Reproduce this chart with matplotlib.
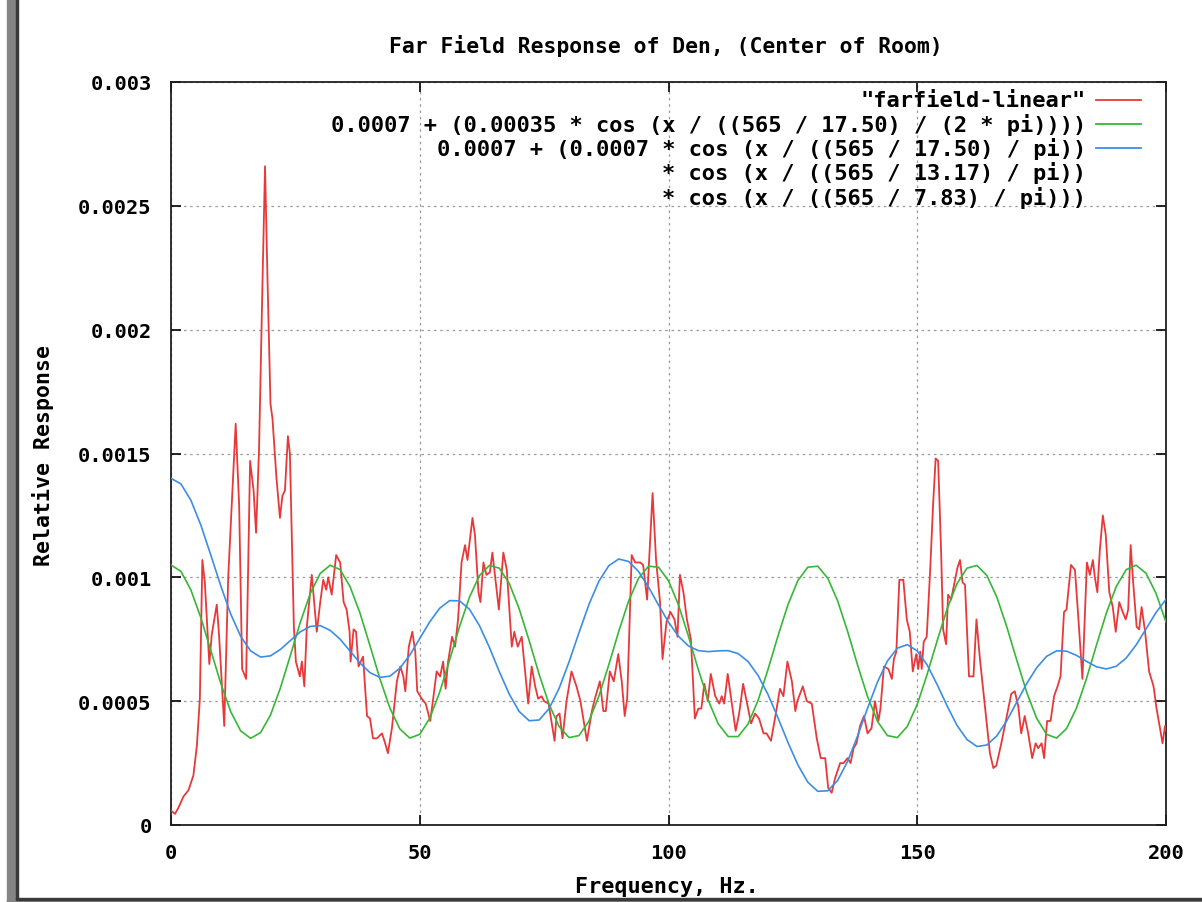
import matplotlib
matplotlib.use("Agg")
import matplotlib.pyplot as plt
from matplotlib.patches import Rectangle
from matplotlib.lines import Line2D
from matplotlib.ticker import FixedLocator, FixedFormatter

# ---------------- data ----------------
title = "Far Field Response of Den, (Center of Room)"
xlabel = "Frequency, Hz."
ylabel = "Relative Response"

x_ticks = [0, 50, 100, 150, 200]
x_tick_labels = ["0", "50", "100", "150", "200"]
y_ticks = [0, 0.0005, 0.001, 0.0015, 0.002, 0.0025, 0.003]
y_tick_labels = ["0", "0.0005", "0.001", "0.0015", "0.002", "0.0025", "0.003"]

legend_labels = [
    "\"farfield-linear\"",
    "0.0007 + (0.00035 * cos (x / ((565 / 17.50) / (2 * pi))))",
    "0.0007 + (0.0007 * cos (x / ((565 / 17.50) / pi))\n"
    "* cos (x / ((565 / 13.17) / pi))\n"
    "* cos (x / ((565 / 7.83) / pi)))",
]

# measured response (Hz, value in units of 1e-4)
red_x = [0, 0.8, 1.5, 2.5, 3.5, 4.5, 5.2, 5.8, 6.3, 6.8, 7.7, 8.2, 9.2, 9.65, 10.7,
         11.5, 13.0, 13.7, 14.3, 15.1, 15.9, 16.6, 17.1, 17.7, 18.4, 18.9, 19.4, 20.0,
         20.4, 21.2, 21.9, 22.4, 22.9, 23.5, 23.9, 24.7, 25.1, 25.5, 25.9, 26.3, 26.8,
         27.3, 28.3, 29.3, 30.0, 30.6, 31.2, 31.6, 32.3, 33.2, 34.0, 34.7, 35.3, 35.9,
         36.1, 36.7, 37.2, 37.7, 38.6, 39.4, 40.0, 40.6, 41.4, 42.4, 42.9, 43.6, 44.4,
         45.4, 46.1, 46.7, 47.1, 47.8, 48.5, 49.1, 49.5, 50.4, 51.2, 52.1, 52.7, 53.4,
         54.1, 54.7, 55.2, 55.7, 56.5, 57.1, 57.7, 58.4, 59.1, 59.6, 60.6, 61.1, 61.8,
         62.2, 62.8, 63.4, 64.1, 64.6, 65.1, 65.9, 66.8, 67.5, 68.5, 69.0, 69.7, 70.5,
         71.8, 72.5, 73.2, 73.8, 74.5, 75.0, 75.9, 77.1, 77.5, 78.1, 78.7, 79.5, 80.5,
         81.5, 82.3, 83.6, 84.6, 85.2, 86.2, 86.9, 87.4, 88.2, 89.0, 89.9, 90.6, 91.2,
         91.7, 92.6, 93.3, 94.3, 94.9, 95.7, 96.8, 97.5, 98.3, 98.8, 99.6, 100.4, 101.2,
         101.8, 102.3, 103.0, 103.7, 104.5, 105.3, 106.0, 106.6, 107.2, 107.9, 108.5,
         109.4, 110.2, 110.7, 111.2, 111.9, 112.6, 113.5, 114.2, 115.0, 115.7, 116.6,
         117.4, 118.2, 119.1, 119.7, 120.6, 121.4, 122.4, 123.1, 123.9, 124.8, 125.5,
         125.9, 127.0, 127.8, 128.8, 129.8, 130.6, 131.5, 132.1, 132.8, 133.5, 134.5,
         135.2, 136.0, 136.6, 137.2, 137.8, 138.5, 139.3, 140.0, 140.8, 141.5, 142.2,
         142.6, 143.3, 144.2, 144.9, 145.3, 145.8, 146.4, 147.2, 147.9, 148.5, 149.1,
         149.8, 150.2, 150.6, 150.9, 151.3, 151.9, 152.6, 153.2, 153.7, 154.2, 154.8,
         155.2, 155.8, 156.2, 156.8, 157.5, 158.1, 158.6, 159.1, 159.6, 160.4, 161.3,
         161.9, 162.6, 163.6, 164.6, 165.3, 165.9, 166.9, 167.9, 168.9, 169.6, 170.3,
         170.9, 171.6, 172.3, 173.1, 173.8, 174.3, 175.0, 175.5, 176.1, 176.8, 177.5,
         178.2, 178.8, 179.5, 180.0, 180.9, 181.7, 182.4, 183.2, 184.1, 184.7, 185.3,
         185.7, 186.2, 186.7, 187.3, 187.9, 188.6, 189.3, 189.9, 190.6, 191.3, 191.9,
         192.4, 192.9, 193.4, 194.1, 194.6, 195.1, 195.8, 196.6, 197.5, 198.1, 198.8,
         199.3, 199.8, 200.0]
red_y = [0.58, 0.45, 0.7, 1.15, 1.4, 2.0, 3.2, 5.1, 10.7, 9.8, 6.5, 7.7, 8.9, 7.7, 4.0,
         10.0, 16.2, 12.9, 6.3, 5.9, 14.7, 13.5, 11.8, 15.2, 22.0, 26.6, 22.0, 17.0,
         16.4, 14.0, 12.4, 13.3, 13.5, 15.7, 15.0, 8.0, 6.6, 6.3, 6.0, 6.6, 5.6,
         8.0, 10.1, 7.8, 9.0, 9.9, 9.5, 10.0, 9.3, 10.9, 10.6, 9.0, 8.7, 7.8,
         6.6, 7.9, 7.8, 6.4, 6.8, 4.4, 4.3, 3.5, 3.5, 3.7, 3.4, 2.9, 3.9,
         5.8, 6.4, 6.0, 5.4, 7.2, 7.8, 7.0, 5.4, 5.1, 4.9, 4.2, 5.1, 6.2,
         6.0, 6.6, 5.5, 6.6, 7.6, 7.2, 8.3, 10.6, 11.3, 10.7, 12.4, 11.7, 9.4,
         9.0, 10.6, 10.1, 10.2, 11.0, 10.1, 8.7, 11.0, 10.3, 7.2, 7.8, 7.2, 7.6,
         4.9, 6.4, 5.6, 5.1, 5.2, 5.0, 4.9, 3.4, 4.4, 4.5, 3.5, 5.0, 6.2,
         5.6, 5.0, 3.4, 4.6, 5.1, 5.8, 4.6, 4.6, 6.2, 5.8, 6.9, 5.8, 4.4,
         5.1, 10.9, 10.6, 10.6, 10.5, 9.1, 13.4, 10.7, 9.0, 6.7, 8.2, 8.6, 8.3,
         7.6, 10.1, 9.4, 8.3, 7.5, 4.3, 4.7, 4.7, 5.7, 5.0, 6.1,
         5.2, 4.9, 5.2, 4.9, 6.1, 5.1, 3.8, 4.5, 5.7, 5.0, 4.1,
         4.5, 4.3, 3.7, 3.7, 3.4, 4.3, 5.5, 5.2, 6.6, 5.8, 4.6,
         5.0, 5.6, 5.0, 4.9, 3.5, 2.7, 2.7, 1.5, 1.3, 1.9, 2.5,
         2.5, 2.7, 2.5, 3.1, 3.3, 4.0, 4.4, 3.7, 3.9, 5.0, 4.2,
         4.7, 6.4, 6.3, 5.9, 6.7, 7.0, 9.9, 9.9, 8.3, 7.8, 6.2,
         6.9, 6.3, 7.0, 6.3, 7.4, 7.6, 10.3, 13.0, 14.8, 14.7, 11.0,
         7.9, 7.3, 9.3, 9.1, 9.8, 10.4, 10.7, 9.8, 9.7, 6.0, 6.0,
         8.3, 6.7, 4.8, 2.9, 2.3, 2.4, 3.3, 4.3, 5.3, 5.4, 4.8,
         3.7, 4.4, 3.7, 2.7, 3.3, 3.1, 3.3, 2.7, 4.2, 4.2, 5.2,
         5.6, 6.0, 8.6, 8.7, 10.5, 10.3, 8.3, 5.9, 10.6, 10.1, 10.7,
         10.0, 9.4, 11.1, 12.5, 11.7, 9.4, 8.8, 7.8, 9.0, 8.6, 8.3,
         8.7, 11.3, 9.8, 8.0, 7.9, 8.8, 7.8, 6.2, 5.6, 4.7, 3.9,
         3.3, 4.0, 3.8]

# sampled model curves, every 2 Hz (value in units of 1e-4)
model_x = list(range(0, 201, 2))
green_y = [10.50, 10.24, 9.49, 8.37, 7.05, 5.72, 4.58, 3.80, 3.50, 3.73, 4.44, 5.54,
           6.85, 8.19, 9.35, 10.16, 10.49, 10.31, 9.62, 8.55, 7.24, 5.90, 4.72, 3.88,
           3.51, 3.66, 4.31, 5.36, 6.66, 8.01, 9.20, 10.07, 10.48, 10.37, 9.75, 8.72,
           7.44, 6.08, 4.87, 3.98, 3.53, 3.61, 4.19, 5.20, 6.47, 7.82, 9.05, 9.97,
           10.45, 10.41, 9.86, 8.89, 7.63, 6.27, 5.03, 4.08, 3.57, 3.57, 4.08, 5.03,
           6.28, 7.63, 8.89, 9.87, 10.41, 10.45, 9.97, 9.05, 7.82, 6.46, 5.19, 4.19,
           3.61, 3.53, 3.98, 4.87, 6.09, 7.44, 8.72, 9.75, 10.37, 10.48, 10.07, 9.20,
           8.00, 6.66, 5.36, 4.31, 3.66, 3.51, 3.89, 4.72, 5.90, 7.25, 8.55, 9.63,
           10.31, 10.49, 10.16, 9.35, 8.19]
blue_y = [14.00, 13.77, 13.11, 12.11, 10.90, 9.66, 8.52, 7.62, 7.03, 6.78, 6.83, 7.09,
          7.45, 7.80, 8.02, 8.05, 7.86, 7.50, 7.02, 6.54, 6.15, 5.96, 6.01, 6.33,
          6.86, 7.53, 8.20, 8.75, 9.06, 9.05, 8.71, 8.05, 7.17, 6.19, 5.28, 4.58,
          4.21, 4.24, 4.70, 5.51, 6.58, 7.76, 8.90, 9.84, 10.47, 10.74, 10.64, 10.23,
          9.60, 8.88, 8.19, 7.62, 7.23, 7.04, 7.00, 7.03, 7.04, 6.92, 6.60, 6.04,
          5.27, 4.33, 3.34, 2.43, 1.73, 1.36, 1.38, 1.80, 2.57, 3.59, 4.71, 5.77,
          6.62, 7.14, 7.28, 7.03, 6.46, 5.67, 4.81, 4.02, 3.45, 3.17, 3.23, 3.60,
          4.21, 4.96, 5.71, 6.35, 6.81, 7.03, 7.02, 6.85, 6.61, 6.39, 6.30, 6.41,
          6.74, 7.27, 7.92, 8.58, 9.11]

scale = 1e-4

# ---------------- styling ----------------
RED = "#e8383a"
GREEN = "#36b836"
BLUE = "#3a8ee6"
FONT = "DejaVu Sans Mono"

W, H = 1202, 903
fig = plt.figure(figsize=(W / 100, H / 100), dpi=100)
ax_l, ax_r, ax_t, ax_b = 171, 1166, 83, 826
ax = fig.add_axes([ax_l / W, 1 - ax_b / H, (ax_r - ax_l) / W, (ax_b - ax_t) / H])

ax.plot(red_x, [v * scale for v in red_y], color=RED, lw=1.3, zorder=3)
ax.plot(model_x, [v * scale for v in green_y], color=GREEN, lw=1.2, zorder=4)
ax.plot(model_x, [v * scale for v in blue_y], color=BLUE, lw=1.2, zorder=5)

ax.set_xlim(0, 200)
ax.set_ylim(0, 0.003)
ax.xaxis.set_major_locator(FixedLocator(x_ticks))
ax.xaxis.set_major_formatter(FixedFormatter(x_tick_labels))
ax.yaxis.set_major_locator(FixedLocator(y_ticks))
ax.yaxis.set_major_formatter(FixedFormatter(y_tick_labels))

ax.grid(True, color="#9a9a9a", lw=0.9, linestyle=(0, (2.0, 3.0)), zorder=1)
ax.set_axisbelow(True)
ax.tick_params(direction="in", length=7, width=1.2, top=True, right=True,
               colors="black")
ax.tick_params(axis="x", pad=13)
ax.tick_params(axis="y", pad=14)
for lab in ax.get_xticklabels() + ax.get_yticklabels():
    lab.set_fontfamily(FONT)
    lab.set_fontweight("bold")
    lab.set_fontsize(14.7)
for sp in ax.spines.values():
    sp.set_linewidth(1.3)
    sp.set_color("#202020")

fig.text(666 / W, 1 - 46 / H, title, ha="center", va="center",
         fontfamily=FONT, fontsize=15.4, fontweight="bold")
fig.text(667 / W, 1 - 887 / H, xlabel, ha="center", va="center",
         fontfamily=FONT, fontsize=15.7, fontweight="bold")
fig.text(43 / W, 1 - 455 / H, ylabel, ha="center", va="center", rotation=90,
         fontfamily=FONT, fontsize=15.5, fontweight="bold")

# key (legend) in gnuplot style: right aligned text, sample line on the right
axw, axh = ax_r - ax_l, ax_b - ax_t
def fx(px):
    return (px - ax_l) / axw
def fy(py):
    return (ax_b - py) / axh

key_colors = [RED, GREEN, BLUE]
key_rows = [101, 125, 149]
row_step = 24.4
for lab, col, row in zip(legend_labels, key_colors, key_rows):
    for i, line in enumerate(lab.split("\n")):
        ax.text(fx(1086), fy(row + i * row_step), line, transform=ax.transAxes,
                ha="right", va="center", fontfamily=FONT, fontsize=15.8,
                fontweight="bold", zorder=6)
    ax.add_line(Line2D([fx(1096), fx(1141)], [fy(row), fy(row)],
                       transform=ax.transAxes, color=col, lw=1.3, zorder=6))

# window frame of the screenshot
fig.patches.append(Rectangle((7 / W, 0), 9 / W, 1, transform=fig.transFigure,
                             color="#858585", zorder=0))
fig.patches.append(Rectangle((16 / W, 0), 1.5 / W, 1, transform=fig.transFigure,
                             color="#3a3a3a", zorder=0))
fig.patches.append(Rectangle((7 / W, 0), 1 - 7 / W, 2.5 / H, transform=fig.transFigure,
                             color="#858585", zorder=0))
fig.patches.append(Rectangle((16 / W, 2.5 / H), 1 - 16 / W, 1.5 / H,
                             transform=fig.transFigure, color="#3a3a3a", zorder=0))

fig.savefig("out.png", dpi=100)
